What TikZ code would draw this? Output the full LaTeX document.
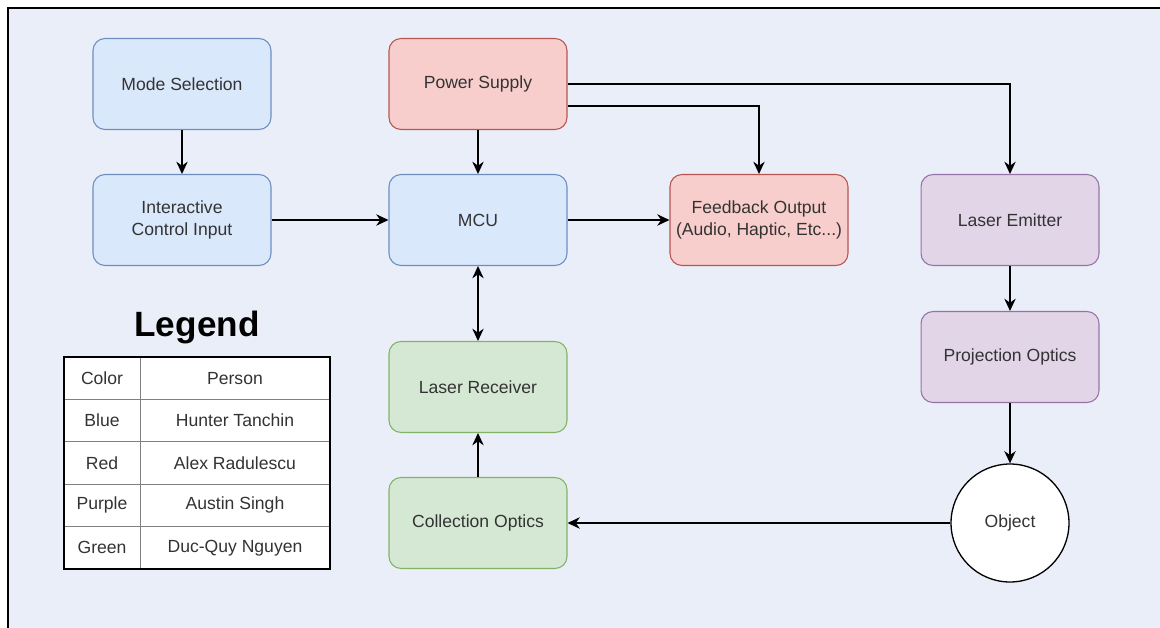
\documentclass[tikz,border=0pt]{standalone}
\usepackage{fontspec}
\setmainfont{Liberation Sans}
\usetikzlibrary{matrix,arrows.meta}

\definecolor{pagebg}{HTML}{EAEEF8}
\definecolor{txtgrey}{HTML}{333333}
\definecolor{bluefill}{HTML}{DAE8FC}
\definecolor{blueline}{HTML}{6C8EBF}
\definecolor{redfill}{HTML}{F8CECC}
\definecolor{redline}{HTML}{B85450}
\definecolor{purplefill}{HTML}{E1D5E7}
\definecolor{purpleline}{HTML}{9673A6}
\definecolor{greenfill}{HTML}{D5E8D4}
\definecolor{greenline}{HTML}{82B366}

\tikzset{
	block/.style={draw, rounded corners=0.24cm, minimum width=3.56cm, minimum height=1.82cm,
		align=center, text=txtgrey, font=\fontsize{10}{12}\selectfont, line width=0.6pt},
	blueblock/.style={block, fill=bluefill, draw=blueline},
	redblock/.style={block, fill=redfill, draw=redline},
	purpleblock/.style={block, fill=purplefill, draw=purpleline},
	greenblock/.style={block, fill=greenfill, draw=greenline},
	link/.style={->, line width=0.75pt},
}

\begin{document}
\begin{tikzpicture}[x=0.02cm, y=-0.02cm, >={Stealth[length=7pt,width=6.5pt]}]
	% page
	\useasboundingbox (0,0) rectangle (1160,628);
	\fill[white] (0,0) rectangle (1160,628);
	\fill[pagebg] (8,8) rectangle (1160,628);
	\draw[line width=1.2pt] (8,628) -- (8,8) -- (1160,8);

	% blocks
	\node[blueblock] (mode) at (182,84) {Mode Selection};
	\node[blueblock] (ctrl) at (182,220) {Interactive\\Control Input};
	\node[redblock] (power) at (478,84) {Power Supply};
	\node[blueblock] (mcu) at (478,220) {MCU};
	\node[redblock] (feedback) at (759,220) {Feedback Output\\(Audio, Haptic, Etc...)};
	\node[purpleblock] (emitter) at (1010,220) {Laser Emitter};
	\node[purpleblock] (projopt) at (1010,357) {Projection Optics};
	\node[circle, draw, fill=white, line width=0.75pt, minimum size=2.36cm, text=txtgrey,
		font=\fontsize{10}{12}\selectfont] (object) at (1010,523) {Object};
	\node[greenblock] (receiver) at (478,387) {Laser Receiver};
	\node[greenblock] (collopt) at (478,523) {Collection Optics};

	% connections
	\draw[link] (mode) -- (ctrl);
	\draw[link] (ctrl) -- (mcu);
	\draw[link] (power) -- (mcu);
	\draw[link] (mcu) -- (feedback);
	\draw[link] (power.east) -| (emitter.north);
	\draw[link] ([yshift=-0.44cm]power.east) -| (feedback.north);
	\draw[link] (emitter) -- (projopt);
	\draw[link] (projopt) -- (object);
	\draw[link] (object) -- (collopt);
	\draw[link] (collopt) -- (receiver);
	\draw[link, <->] (receiver) -- (mcu);

	% legend
	\node[font=\fontsize{20}{24}\selectfont\bfseries] (legtitle) at (197,327) {Legend};
	\matrix (legend) [matrix of nodes, anchor=center, inner sep=0pt, outer sep=0pt,
		column sep=-0.5pt, row sep=-0.5pt,
		nodes={draw=gray, line width=0.5pt, fill=white, text=txtgrey, minimum height=0.848cm,
			font=\fontsize{10}{12}\selectfont, anchor=center},
		column 1/.style={nodes={minimum width=1.52cm}},
		column 2/.style={nodes={minimum width=3.8cm}}] at (197,463)
	{
		Color & Person \\
		Blue & Hunter Tanchin \\
		Red & Alex Radulescu \\
		Purple & Austin Singh \\
		Green & Duc-Quy Nguyen \\
	};
	\draw[line width=1.5pt] (legend-1-1.north west) rectangle (legend-5-2.south east);
\end{tikzpicture}
\end{document}
